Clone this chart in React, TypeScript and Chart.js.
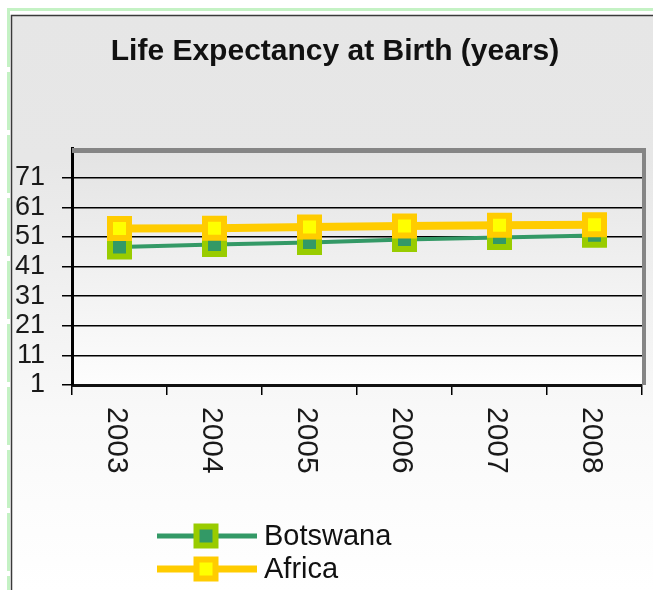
import React, { useEffect, useRef } from 'react';
import { Chart, registerables } from 'chart.js';

Chart.register(...registerables);

const TITLE = 'Life Expectancy at Birth (years)';
const years = ['2003', '2004', '2005', '2006', '2007', '2008'];
const botswana = [47.6, 48.4, 49.1, 50.1, 50.8, 51.5];
const africa = [53.8, 53.9, 54.3, 54.7, 54.9, 55.1];
const yTicks = [1, 11, 21, 31, 41, 51, 61, 71];
const Y_MIN = 1;
const Y_MAX = 81;

const FONT = "'Liberation Sans', Arial, sans-serif";

const decorPlugin = {
  id: 'decor',
  beforeDraw(chart: any) {
    const { ctx, width, height, chartArea } = chart;
    ctx.save();
    ctx.fillStyle = '#ffffff';
    ctx.fillRect(0, 0, width, height);
    // outer frame background
    const g = ctx.createLinearGradient(0, 15, 0, height);
    g.addColorStop(0, '#e6e6e6');
    g.addColorStop(0.25, '#e7e7e7');
    g.addColorStop(0.7, '#f9f9f9');
    g.addColorStop(1, '#ffffff');
    ctx.fillStyle = g;
    ctx.fillRect(11, 15, width - 11, height - 15);
    // green outer lines
    ctx.strokeStyle = '#c4f2c4';
    ctx.lineWidth = 3;
    ctx.beginPath();
    ctx.moveTo(7, 9.5);
    ctx.lineTo(width, 9.5);
    ctx.stroke();
    ctx.setLineDash([58, 5]);
    ctx.beginPath();
    ctx.moveTo(8.5, 9);
    ctx.lineTo(8.5, height);
    ctx.stroke();
    ctx.setLineDash([]);
    // dark frame
    ctx.strokeStyle = '#3a3a3a';
    ctx.lineWidth = 1.5;
    ctx.beginPath();
    ctx.moveTo(11.5, height);
    ctx.lineTo(11.5, 15.5);
    ctx.lineTo(width, 15.5);
    ctx.stroke();
    // plot area background
    const pg = ctx.createLinearGradient(0, chartArea.top, 0, chartArea.bottom);
    pg.addColorStop(0, '#e3e3e3');
    pg.addColorStop(1, '#fdfdfd');
    ctx.fillStyle = pg;
    ctx.fillRect(chartArea.left, chartArea.top, chartArea.right - chartArea.left, chartArea.bottom - chartArea.top);
    // title
    ctx.fillStyle = '#111111';
    ctx.font = `bold 30px ${FONT}`;
    ctx.textAlign = 'center';
    ctx.textBaseline = 'alphabetic';
    ctx.fillText(TITLE, 335, 60);
    ctx.restore();
  },
  afterDraw(chart: any) {
    const { ctx, chartArea } = chart;
    const xs = chart.scales.x;
    ctx.save();
    // plot border (top and right, gray)
    ctx.fillStyle = '#858585';
    ctx.fillRect(chartArea.left, chartArea.top, chartArea.right + 4 - chartArea.left, 5);
    ctx.fillRect(chartArea.right, chartArea.top, 4, chartArea.bottom - chartArea.top);
    // x labels, rotated clockwise
    ctx.fillStyle = '#1a1a1a';
    ctx.font = `30px ${FONT}`;
    ctx.textAlign = 'left';
    ctx.textBaseline = 'middle';
    years.forEach((lab, i) => {
      const x = xs.getPixelForValue(i);
      ctx.save();
      ctx.translate(x - 3.5, chartArea.bottom + 22);
      ctx.rotate(Math.PI / 2);
      ctx.fillText(lab, 0, 0);
      ctx.restore();
    });
    // legend
    const rows = [
      { ds: chart.data.datasets[0], y: 536, lw: 5 },
      { ds: chart.data.datasets[1], y: 569, lw: 7 },
    ];
    rows.forEach(({ ds, y, lw }) => {
      ctx.strokeStyle = ds.borderColor;
      ctx.lineWidth = lw;
      ctx.beginPath();
      ctx.moveTo(157, y);
      ctx.lineTo(257, y);
      ctx.stroke();
      const side = 19;
      ctx.fillStyle = ds.pointBackgroundColor;
      ctx.fillRect(206 - side / 2, y - side / 2, side, side);
      ctx.strokeStyle = ds.pointBorderColor;
      ctx.lineWidth = 6;
      ctx.strokeRect(206 - side / 2, y - side / 2, side, side);
      ctx.fillStyle = '#111111';
      ctx.font = `29px ${FONT}`;
      ctx.textAlign = 'left';
      ctx.textBaseline = 'middle';
      ctx.fillText(ds.label, 264, y + 1);
    });
    ctx.restore();
  },
};

export default function App() {
  const ref = useRef<HTMLCanvasElement>(null);
  useEffect(() => {
    const chart = new Chart(ref.current as HTMLCanvasElement, {
      type: 'line',
      data: {
        labels: years,
        datasets: [
          {
            label: 'Botswana',
            data: botswana,
            borderColor: '#339966',
            borderWidth: 4,
            pointStyle: 'rect',
            pointRadius: 13.4,
            pointHoverRadius: 13.4,
            pointBorderWidth: 6,
            pointBackgroundColor: '#339966',
            pointBorderColor: '#99cc00',
            tension: 0,
            order: 1,
          },
          {
            label: 'Africa',
            data: africa,
            borderColor: '#ffcc00',
            borderWidth: 8,
            pointStyle: 'rect',
            pointRadius: 13.4,
            pointHoverRadius: 13.4,
            pointBorderWidth: 6,
            pointBackgroundColor: '#ffff00',
            pointBorderColor: '#ffcc00',
            tension: 0,
            order: 0,
          },
        ],
      },
      options: {
        responsive: false,
        devicePixelRatio: 1,
        animation: false,
        events: [],
        layout: { autoPadding: false, padding: { left: 8, right: 11, top: 148, bottom: 0 } },
        plugins: {
          legend: { display: false },
          title: { display: false },
          tooltip: { enabled: false },
        },
        scales: {
          x: {
            type: 'category',
            offset: true,
            grid: {
              offset: true,
              drawOnChartArea: false,
              drawTicks: true,
              tickLength: 10,
              color: '#000000',
              lineWidth: 1.5,
            },
            border: { display: true, color: '#111111', width: 3 },
            ticks: { display: false },
            afterFit: (s: any) => {
              s.height = 205;
            },
          },
          y: {
            min: Y_MIN,
            max: Y_MAX,
            afterBuildTicks: (s: any) => {
              s.ticks = yTicks.map((v) => ({ value: v }));
            },
            grid: {
              color: '#000000',
              lineWidth: 1.5,
              tickLength: 10,
              drawTicks: true,
            },
            border: { display: true, color: '#000000', width: 3 },
            ticks: {
              font: { family: FONT, size: 27 },
              color: '#1a1a1a',
              padding: 17,
              autoSkip: false,
            },
            afterFit: (s: any) => {
              s.width = 64;
            },
          },
        },
      },
      plugins: [decorPlugin],
    } as any);
    return () => chart.destroy();
  }, []);
  return (
    <div style={{ position: 'fixed', left: 0, top: 0, width: 653, height: 590 }}>
      <canvas ref={ref} width={653} height={590} style={{ display: 'block', width: 653, height: 590 }} />
    </div>
  );
}
